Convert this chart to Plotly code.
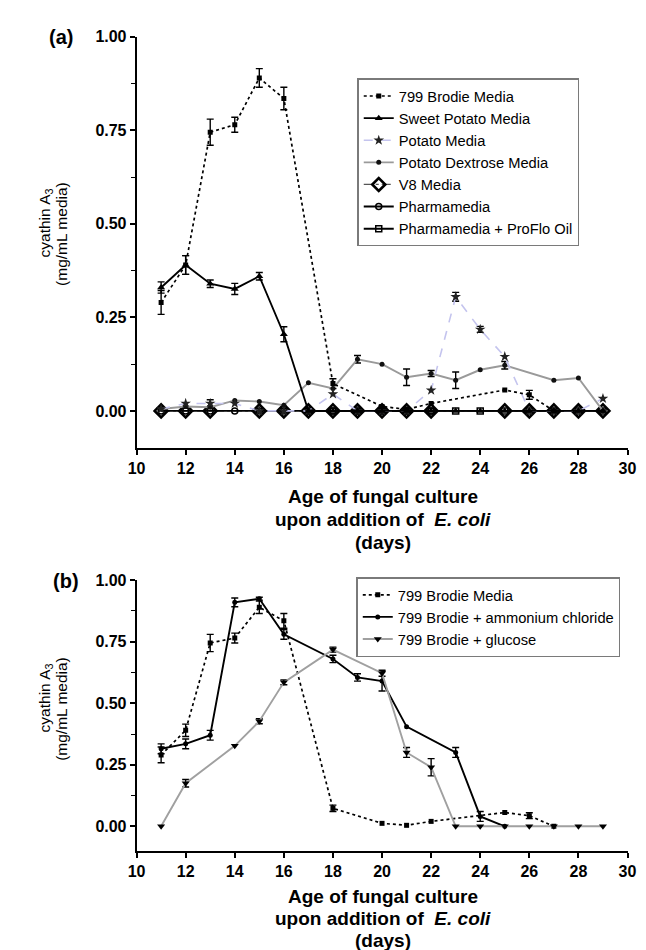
import plotly.graph_objects as go

W, H = 646, 950
FONT = "Liberation Sans, Arial, sans-serif"

# ---------------- Panel (a) data ----------------
brodie_days = [11, 12, 13, 14, 15, 16, 18, 20, 21, 22, 25, 26, 27]
brodie_vals = [0.29, 0.39, 0.745, 0.765, 0.89, 0.835, 0.073, 0.012, 0.004, 0.02, 0.056, 0.043, 0.0]
brodie_err = [0.032, 0.025, 0.035, 0.02, 0.025, 0.03, 0.013, 0, 0, 0, 0, 0.012, 0]

sweet_days = [11, 12, 13, 14, 15, 16, 17, 18, 19, 20, 21, 22, 23, 24, 25, 26, 27, 28, 29]
sweet_vals = [0.33, 0.39, 0.34, 0.326, 0.36, 0.205, 0.0, 0.0, 0.0, 0.0, 0.0, 0.0, 0.0,
              0.0, 0.0, 0.0, 0.0, 0.0, 0.0]
sweet_err = [0.015, 0.025, 0.01, 0.015, 0.01, 0.02, 0, 0, 0, 0, 0, 0, 0, 0, 0, 0, 0, 0, 0]

potato_days = [11, 12, 13, 14, 15, 16, 17, 18, 19, 20, 21, 22, 23, 24, 25, 26, 27, 28, 29]
potato_vals = [0.005, 0.02, 0.02, 0.02, 0.0, 0.0, 0.0, 0.045, 0.0, 0.0, 0.0, 0.055,
               0.305, 0.218, 0.145, 0.0, 0.0, 0.0, 0.033]
potato_err = [0, 0, 0.01, 0, 0, 0, 0, 0, 0, 0, 0, 0, 0.012, 0.008, 0, 0, 0, 0, 0]

pdm_days = [11, 12, 13, 14, 15, 16, 17, 18, 19, 20, 21, 22, 23, 24, 25, 27, 28, 29]
pdm_vals = [0.005, 0.012, 0.01, 0.028, 0.025, 0.015, 0.075, 0.06, 0.138, 0.125, 0.09,
            0.1, 0.082, 0.11, 0.122, 0.082, 0.088, 0.0]
pdm_err = [0, 0, 0, 0, 0, 0, 0, 0, 0.01, 0, 0.022, 0.008, 0.022, 0, 0.01, 0, 0, 0]

v8_days = [11, 12, 13, 15, 16, 17, 18, 19, 20, 21, 22, 25, 26, 27, 28, 29]
v8_vals = [0.0] * len(v8_days)

pharma_days = [11, 12, 13, 14, 15, 16, 17, 18, 19, 20, 21, 22]
pharma_vals = [0.0] * len(pharma_days)

proflo_days = [17, 18, 19, 20, 21, 22, 23, 24, 25, 26, 27, 28, 29]
proflo_vals = [0.0] * len(proflo_days)

# ---------------- Panel (b) data ----------------
amm_days = [11, 12, 13, 14, 15, 16, 18, 19, 20, 21, 23, 24, 25]
amm_vals = [0.315, 0.335, 0.37, 0.91, 0.925, 0.78, 0.68, 0.605, 0.59, 0.405, 0.30, 0.04, 0.0]
amm_err = [0.02, 0.02, 0.02, 0.018, 0.006, 0.02, 0.015, 0.015, 0.04, 0, 0.02, 0.02, 0]

glu_days = [11, 12, 14, 15, 16, 18, 20, 21, 22, 23, 24, 25, 26, 27, 28, 29]
glu_vals = [0.0, 0.175, 0.327, 0.427, 0.585, 0.718, 0.622, 0.30, 0.24, 0.0, 0.0, 0.0, 0.0, 0.0, 0.0, 0.0]
glu_err = [0, 0.015, 0, 0.01, 0.01, 0.01, 0.012, 0.02, 0.035, 0, 0, 0, 0, 0, 0, 0]

x_ticks = [10, 12, 14, 16, 18, 20, 22, 24, 26, 28, 30]
y_ticks = [0.0, 0.25, 0.5, 0.75, 1.0]
y_ticktext = ["0.00", "0.25", "0.50", "0.75", "1.00"]

fig = go.Figure()


def px_x(p):
    return p / W


def px_y(p):
    return (H - p) / H


def add_err(days, vals, errs, xa, ya):
    xs = [d for d, e in zip(days, errs) if e > 0]
    ys = [v for v, e in zip(vals, errs) if e > 0]
    es = [e for e in errs if e > 0]
    fig.add_trace(go.Scatter(
        x=xs, y=ys, mode="markers", marker=dict(size=1, opacity=0),
        error_y=dict(type="data", array=es, color="black", thickness=1.4, width=3.5),
        showlegend=False, hoverinfo="skip", xaxis=xa, yaxis=ya))


# ---- Panel (a) traces ----
add_err(brodie_days, brodie_vals, brodie_err, "x", "y")
add_err(sweet_days, sweet_vals, sweet_err, "x", "y")
add_err(potato_days, potato_vals, potato_err, "x", "y")
add_err(pdm_days, pdm_vals, pdm_err, "x", "y")

fig.add_trace(go.Scatter(x=v8_days, y=v8_vals, name="V8 Media", mode="lines+markers",
                         line=dict(color="#555555", width=1.2, dash="dashdot"),
                         marker=dict(symbol="diamond-open", size=10, color="black", line=dict(width=2.6)),
                         xaxis="x", yaxis="y", legend="legend", legendrank=5))
fig.add_trace(go.Scatter(x=pharma_days, y=pharma_vals, name="Pharmamedia", mode="lines+markers",
                         line=dict(color="black", width=1.9),
                         marker=dict(symbol="circle-open", size=6, color="black", line=dict(width=1.5)),
                         xaxis="x", yaxis="y", legend="legend", legendrank=6))
fig.add_trace(go.Scatter(x=proflo_days, y=proflo_vals, name="Pharmamedia + ProFlo Oil", mode="lines+markers",
                         line=dict(color="black", width=1.9),
                         marker=dict(symbol="square-open", size=6, color="black", line=dict(width=1.5)),
                         xaxis="x", yaxis="y", legend="legend", legendrank=7))
fig.add_trace(go.Scatter(x=pdm_days, y=pdm_vals, name="Potato Dextrose Media", mode="lines+markers",
                         line=dict(color="#9a9a9a", width=1.9),
                         marker=dict(symbol="circle", size=5, color="#111111"),
                         xaxis="x", yaxis="y", legend="legend", legendrank=4))
fig.add_trace(go.Scatter(x=potato_days, y=potato_vals, name="Potato Media", mode="lines+markers",
                         line=dict(color="#c4c4ee", width=1.6, dash="dash"),
                         marker=dict(symbol="star", size=8, color="#222222"),
                         xaxis="x", yaxis="y", legend="legend", legendrank=3))
fig.add_trace(go.Scatter(x=sweet_days, y=sweet_vals, name="Sweet Potato Media", mode="lines+markers",
                         line=dict(color="black", width=1.9),
                         marker=dict(symbol="triangle-up", size=7, color="black"),
                         xaxis="x", yaxis="y", legend="legend", legendrank=2))
fig.add_trace(go.Scatter(x=brodie_days, y=brodie_vals, name="799 Brodie Media", mode="lines+markers",
                         line=dict(color="black", width=1.7, dash="dot"),
                         marker=dict(symbol="square", size=5, color="black"),
                         xaxis="x", yaxis="y", legend="legend", legendrank=1))

# ---- Panel (b) traces ----
add_err(brodie_days, brodie_vals, brodie_err, "x2", "y2")
add_err(amm_days, amm_vals, amm_err, "x2", "y2")
add_err(glu_days, glu_vals, glu_err, "x2", "y2")

fig.add_trace(go.Scatter(x=brodie_days, y=brodie_vals, name="799 Brodie Media", mode="lines+markers",
                         line=dict(color="black", width=1.7, dash="dot"),
                         marker=dict(symbol="square", size=5, color="black"),
                         xaxis="x2", yaxis="y2", legend="legend2"))
fig.add_trace(go.Scatter(x=amm_days, y=amm_vals, name="799 Brodie + ammonium chloride", mode="lines+markers",
                         line=dict(color="black", width=1.9),
                         marker=dict(symbol="circle", size=5, color="black"),
                         xaxis="x2", yaxis="y2", legend="legend2"))
fig.add_trace(go.Scatter(x=glu_days, y=glu_vals, name="799 Brodie + glucose", mode="lines+markers",
                         line=dict(color="#a0a0a0", width=1.9),
                         marker=dict(symbol="triangle-down", size=7, color="black"),
                         xaxis="x2", yaxis="y2", legend="legend2"))

tickfont = dict(family=FONT, size=16, color="black", weight="bold")
common_x = dict(range=[10, 30], tickmode="array", tickvals=x_ticks, showline=True, linecolor="black",
                linewidth=1.7, ticks="outside", ticklen=5, tickwidth=1.6, tickcolor="black",
                tickfont=tickfont, showgrid=False, zeroline=False, fixedrange=True)
common_y = dict(range=[-0.1, 1.0], tickmode="array", tickvals=y_ticks, ticktext=y_ticktext,
                showline=True, linecolor="black", linewidth=1.7, ticks="outside", ticklen=5,
                tickwidth=1.6, tickcolor="black", tickfont=tickfont, showgrid=False, zeroline=False,
                minor=dict(tickmode="array", tickvals=[0.125, 0.375, 0.625, 0.875], ticks="outside",
                           ticklen=4, tickwidth=1.3, tickcolor="black"),
                fixedrange=True)

legend_common = dict(bgcolor="white", bordercolor="#7a7a7a", borderwidth=1.5,
                     font=dict(family=FONT, size=14.7, color="black"),
                     xanchor="left", yanchor="top", itemwidth=30, tracegroupgap=0,
                     traceorder="normal")

fig.update_layout(
    width=W, height=H, autosize=False,
    margin=dict(l=0, r=0, t=0, b=0),
    paper_bgcolor="white", plot_bgcolor="white",
    font=dict(family=FONT, color="black"),
    xaxis=dict(domain=[px_x(123), px_x(628)], anchor="y", **common_x),
    yaxis=dict(domain=[px_y(436), px_y(21)], anchor="x", **common_y),
    xaxis2=dict(domain=[px_x(123), px_x(628)], anchor="y2", **common_x),
    yaxis2=dict(domain=[px_y(842), px_y(569)], anchor="x2", **common_y),
    legend=dict(x=px_x(350), y=px_y(63), **legend_common),
    legend2=dict(x=px_x(349), y=px_y(566), **legend_common),
)

ann_title = dict(family=FONT, size=15.5, color="black")
ann_bold = dict(family=FONT, size=19, color="black", weight="bold")
panel_font = dict(family=FONT, size=20, color="black", weight="bold")

x_title_lines = ["Age of fungal culture", "upon addition of  <i>E. coli</i>", "(days)"]
y_title_lines = ["cyathin A<sub>3</sub>", "(mg/mL media)"]

annotations = [
    dict(text="(a)", x=px_x(45), y=px_y(21), font=panel_font),
    dict(text="(b)", x=px_x(50), y=px_y(570), font=panel_font),
]
# y-axis titles (two rotated lines each)
for (lx, ly_a, ly_b), txt in zip([(29, 209, 688), (45, 220, 699)], y_title_lines):
    annotations.append(dict(text=txt, x=px_x(lx), y=px_y(ly_a), textangle=-90, font=ann_title))
    annotations.append(dict(text=txt, x=px_x(lx), y=px_y(ly_b), textangle=-90, font=ann_title))
# x-axis titles (three bold lines each)
for txt, ya, yb in zip(x_title_lines, [485, 508, 531], [888, 910, 932]):
    annotations.append(dict(text=txt, x=px_x(376), y=px_y(ya), font=ann_bold))
    annotations.append(dict(text=txt, x=px_x(376), y=px_y(yb), font=ann_bold))

for a in annotations:
    a.update(xref="paper", yref="paper", xanchor="center", yanchor="middle", showarrow=False)
fig.update_layout(annotations=annotations)

fig.write_html("out.html")
